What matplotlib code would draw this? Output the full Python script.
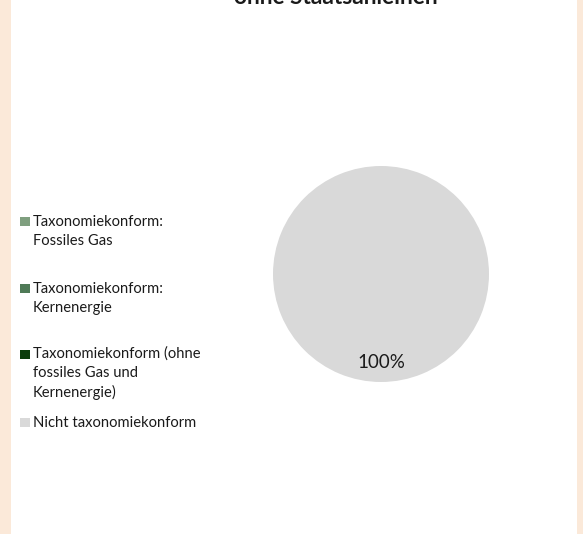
import matplotlib
matplotlib.use("Agg")
import matplotlib.pyplot as plt
from matplotlib.patches import Rectangle

plt.rcParams['font.family'] = ['Lato', 'DejaVu Sans']

title = "ohne Staatsanleihen"
categories = ["Taxonomiekonform:\nFossiles Gas",
              "Taxonomiekonform:\nKernenergie",
              "Taxonomiekonform (ohne\nfossiles Gas und\nKernenergie)",
              "Nicht taxonomiekonform"]
values = [0, 0, 0, 100]
colors = ["#7F9F7F", "#4F7A57", "#0B3D0B", "#D9D9D9"]

W, H = 583, 534
fig = plt.figure(figsize=(W/100, H/100), dpi=100, facecolor="#FBE9D9")
# white chart area
fig.patches.append(Rectangle((11/W, 0), (577-11)/W, 1, transform=fig.transFigure,
                             facecolor="white", edgecolor="none", zorder=-5))

cx, cy, r = 381, 274, 108
ax = fig.add_axes([(cx - r)/W, 1 - (cy + r)/H, 2*r/W, 2*r/H])
ax.set_facecolor("none")
ax.set_zorder(2)

def fmt(p):
    return f"{p:.0f}%" if p > 0 else ""

wedges, texts, autotexts = ax.pie(values, colors=colors, startangle=90, counterclock=False,
                                  autopct=fmt, pctdistance=0.815, radius=1.0,
                                  textprops=dict(fontsize=13.5, color="#1a1a1a"))
ax.set_xlim(-1, 1)
ax.set_ylim(-1, 1)
ax.set_aspect("equal")

fig.text(336/W, 1 - 4/H, title, ha="center", va="baseline", fontsize=16.3,
         fontweight="bold", color="#1a1a1a")

# legend
baselines = [226, 293, 359, 427]
line_h = 19
for lab, col, yb in zip(categories, colors, baselines):
    n = lab.count("\n")
    fig.patches.append(Rectangle((20/W, 1 - yb/H), 10/W, 9/H, transform=fig.transFigure,
                                 facecolor=col, edgecolor="none", zorder=2))
    fig.text(33/W, 1 - (yb + n*line_h)/H, lab, ha="left", va="baseline", fontsize=10.6,
             color="#1a1a1a", linespacing=1.45)

fig.savefig("out.png", dpi=100, facecolor=fig.get_facecolor())
